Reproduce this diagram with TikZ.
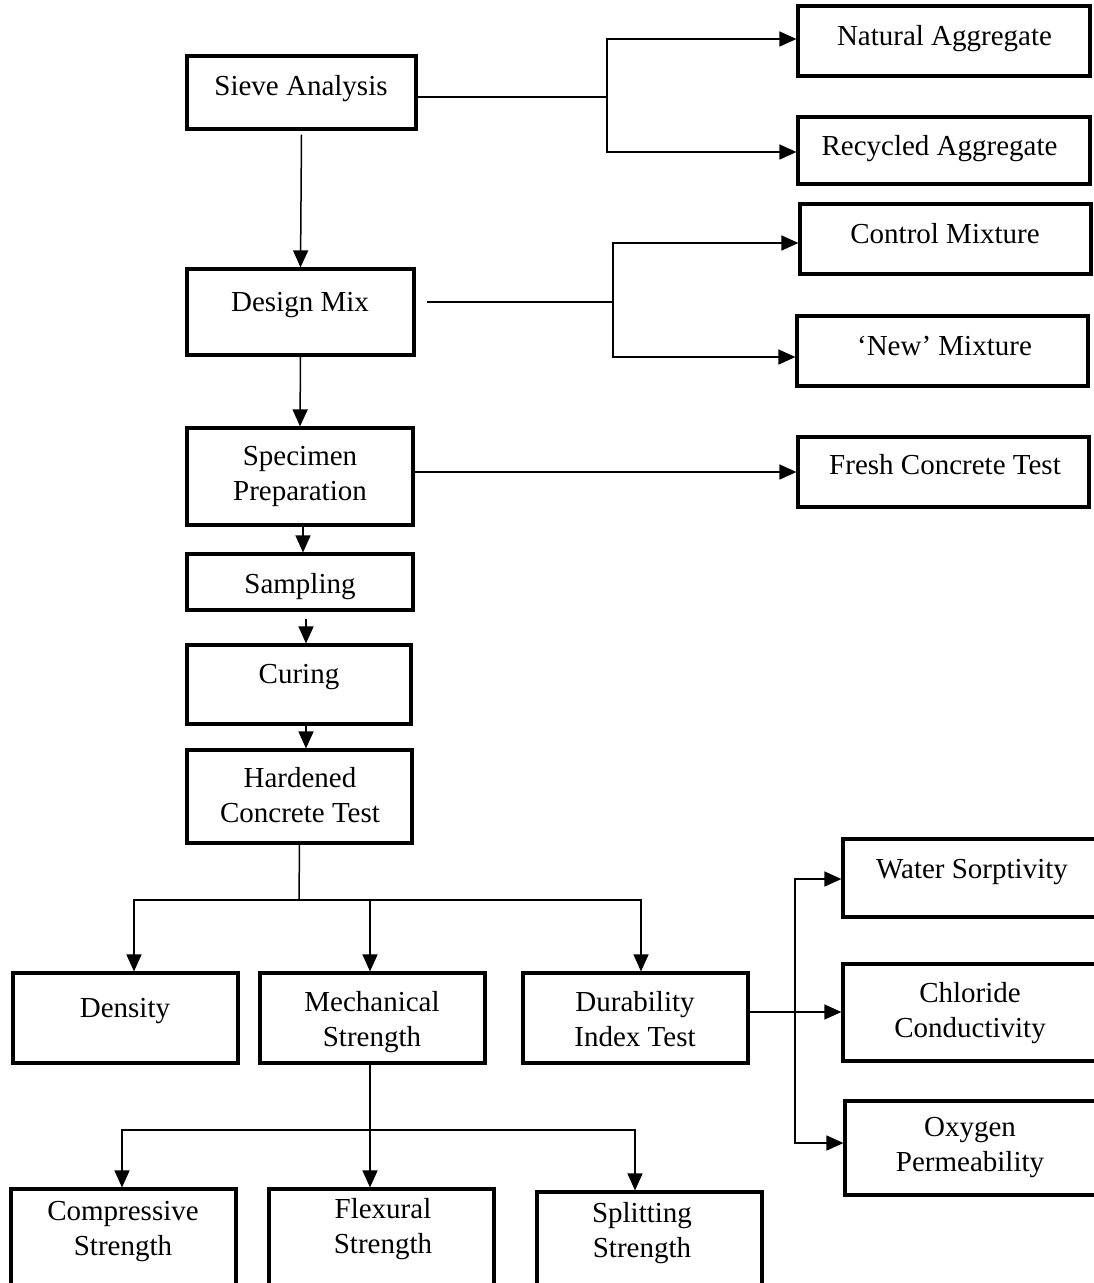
\documentclass[tikz,border=0pt]{standalone}
\usepackage{fontspec}
\setmainfont{Liberation Serif}
\usetikzlibrary{arrows.meta}
\tikzset{
  box/.style={draw=black, line width=3.2pt, rectangle, inner sep=0pt},
  txt/.style={anchor=north, yshift=21pt, inner sep=0pt, align=center,
    font=\fontsize{29}{35.5}\selectfont, execute at begin node={\rule{0pt}{21pt}}},
  conn/.style={draw=black, line width=1.5pt},
  arr/.style={conn, -{Triangle[length=17pt,width=15pt]}}
}
\begin{document}
\begin{tikzpicture}[x=1pt,y=-1pt]
\useasboundingbox (0,0) rectangle (1094,1283);
\fill[white] (0,0) rectangle (1094,1283);
\clip (0,0) rectangle (1094,1283);
% boxes
\node[box, minimum width=229pt, minimum height=73pt] (sieve) at (301.5,92.5) {};
\node[box, minimum width=292pt, minimum height=70pt] (natural) at (944,41) {};
\node[box, minimum width=292pt, minimum height=67pt] (recycled) at (944,150.5) {};
\node[box, minimum width=227pt, minimum height=86pt] (design) at (300.5,312) {};
\node[box, minimum width=291pt, minimum height=70pt] (control) at (945.5,239) {};
\node[box, minimum width=291pt, minimum height=70pt] (new) at (942.5,351) {};
\node[box, minimum width=226pt, minimum height=97pt] (specimen) at (300,476.5) {};
\node[box, minimum width=291pt, minimum height=70pt] (fresh) at (943.5,472) {};
\node[box, minimum width=226pt, minimum height=56pt] (sampling) at (300,582) {};
\node[box, minimum width=224pt, minimum height=79pt] (curing) at (299,684.5) {};
\node[box, minimum width=225pt, minimum height=93pt] (hardened) at (299.5,796.5) {};
\node[box, minimum width=225pt, minimum height=90pt] (density) at (125.5,1018) {};
\node[box, minimum width=225pt, minimum height=90pt] (mech) at (372.5,1018) {};
\node[box, minimum width=225pt, minimum height=90pt] (dura) at (635.5,1018) {};
\node[box, minimum width=267pt, minimum height=78pt] (water) at (976.5,878) {};
\node[box, minimum width=267pt, minimum height=97pt] (chloride) at (976.5,1012.5) {};
\node[box, minimum width=265pt, minimum height=94pt] (oxygen) at (977.5,1148) {};
\node[box, minimum width=225pt, minimum height=111pt] (comp) at (123.5,1244.5) {};
\node[box, minimum width=225pt, minimum height=111pt] (flex) at (381.5,1244.5) {};
\node[box, minimum width=225pt, minimum height=108pt] (split) at (649.5,1246) {};
% texts
\node[txt] (sieveT) at (301,95) {Sieve Analysis};
\node[txt] (naturalT) at (944.5,45) {Natural Aggregate};
\node[txt] (recycledT) at (939.5,155) {Recycled Aggregate};
\node[txt] (designT) at (300,311) {Design Mix};
\node[txt] (controlT) at (945,243) {Control Mixture};
\node[txt] (newT) at (944.5,355) {‘New’ Mixture};
\node[txt] (specimenT) at (300,467) {Specimen\\Preparation};
\node[txt] (freshT) at (945,474) {Fresh Concrete Test};
\node[txt] (samplingT) at (300,593) {Sampling};
\node[txt] (curingT) at (299,683) {Curing};
\node[txt] (hardenedT) at (300,788) {Hardened\\Concrete Test};
\node[txt] (densityT) at (125,1017) {Density};
\node[txt] (mechT) at (372,1012) {Mechanical\\Strength};
\node[txt] (duraT) at (635,1012) {Durability\\Index Test};
\node[txt] (waterT) at (972,878) {Water Sorptivity};
\node[txt] (chlorideT) at (970,1003) {Chloride\\Conductivity};
\node[txt] (oxygenT) at (970,1138) {Oxygen\\Permeability};
\node[txt] (compT) at (123,1222) {Compressive\\Strength};
\node[txt] (flexT) at (383,1219) {Flexural\\Strength};
\node[txt] (splitT) at (642,1223) {Splitting\\Strength};
% branch points
\coordinate (b1) at (607,97);
\coordinate (b2) at (613,302);
\coordinate (b3) at (299,900);
\coordinate (b4) at (370,1130);
\coordinate (b5) at (795,1012);
% connectors
\draw[conn] (sieve.east |- b1) -- (b1);
\draw[arr] (b1) |- ([yshift=2pt]natural.west);
\draw[arr] (b1) |- ([yshift=-1.5pt]recycled.west);
\draw[arr] ([yshift=-4pt]sieve.south) -- (design.north);
\draw[conn] ([xshift=11pt]design.east |- b2) -- (b2);
\draw[arr] (b2) |- ([yshift=-4pt]control.west);
\draw[arr] (b2) |- ([yshift=-6pt]new.west);
\draw[arr] (design.south) -- (specimen.north);
\draw[arr] (specimen.east |- fresh.west) -- (fresh.west);
\draw[arr] ([xshift=3pt]specimen.south) -- ([xshift=3pt]sampling.north);
\draw[arr] ([xshift=6pt,yshift=-7pt]sampling.south) -- ([xshift=7pt]curing.north);
\draw[arr] ([xshift=7pt]curing.south) -- ([xshift=6.5pt]hardened.north);
\draw[conn] (hardened.south) -- (b3);
\draw[arr] (b3) -| ([xshift=8.5pt]density.north);
\draw[arr] (b3) -| ([xshift=-2.5pt]mech.north);
\draw[arr] (b3) -| ([xshift=5.5pt]dura.north);
\draw[conn] ([xshift=-2.5pt]mech.south) -- (b4);
\draw[arr] (b4) -| ([xshift=-1.5pt]comp.north);
\draw[arr] (b4) -- ([xshift=-11.5pt]flex.north);
\draw[arr] (b4) -| ([xshift=-14.5pt]split.north);
\draw[conn] (dura.east |- b5) -- (b5);
\draw[arr] (b5) |- ([yshift=-1pt]water.west);
\draw[arr] (b5) -- (chloride.west |- b5);
\draw[arr] (b5) |- ([yshift=5pt]oxygen.west);
\end{tikzpicture}
\end{document}
